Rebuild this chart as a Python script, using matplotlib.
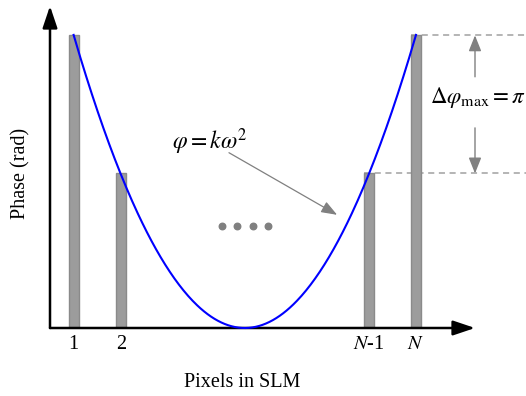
import numpy as np
import matplotlib.pyplot as plt

plt.rcParams['font.family'] = ['Liberation Serif', 'DejaVu Serif']
plt.rcParams['mathtext.fontset'] = 'stix'

# pixel positions along the SLM (arbitrary units) and phase in units of pi
pixel_pos = [0.5, 1.5, 6.75, 7.75]
pixel_labels = ['1', '2', '$N$-1', '$N$']
phase = [2.12, 1.12, 1.12, 2.12]
k = 0.1616
x0 = 4.125
dots_x = [3.65, 3.97, 4.29, 4.61]
dots_y = 0.74

grey = '#808080'

fig = plt.figure(figsize=(5.26, 3.96), dpi=100)
ax = fig.add_axes([50 / 526, 68 / 396, 425 / 526, 322 / 396])
ax.set_xlim(0, 9.0)
ax.set_ylim(0, 2.333)
for s in ax.spines.values():
    s.set_visible(False)
ax.set_yticks([])
ax.set_xticks(pixel_pos, pixel_labels, fontsize=14.5)
ax.tick_params(axis='x', length=0, pad=5)

# axes with arrows
arrow = dict(arrowstyle='-|>,head_length=0.95,head_width=0.32', color='k', lw=1.8,
             shrinkA=0, shrinkB=0, mutation_scale=14)
ax.annotate('', xy=(1, 0), xytext=(0, 0), xycoords='axes fraction', arrowprops=arrow)
ax.annotate('', xy=(0, 1), xytext=(0, 0), xycoords='axes fraction', arrowprops=arrow)

# dashed guide lines
for i in [2, 3]:
    ax.plot([pixel_pos[i] - 0.105, 10.2], [phase[i], phase[i]], ls=(0, (4, 3)),
            color='#a0a0a0', lw=1.1, clip_on=False, zorder=1)

# bars
ax.bar(pixel_pos, phase, width=0.21, color='#9c9c9c', edgecolor='#8a8a8a',
       lw=1, zorder=2)

# parabola
xs = np.linspace(pixel_pos[0], pixel_pos[-1], 300)
ax.plot(xs, k * (xs - x0) ** 2, color='#0000ff', lw=1.5, zorder=3, clip_on=False)

# dots
ax.scatter(dots_x, [dots_y] * len(dots_x), s=22, color=grey, zorder=3)

# annotation of phase profile
ax.text(3.38, 1.35, r'$\varphi = k\omega^2$', fontsize=17, ha='center', va='center')
ax.annotate('', xy=(6.08, 0.82), xytext=(3.79, 1.27),
            arrowprops=dict(arrowstyle='-|>,head_length=0.8,head_width=0.3',
                            color=grey, lw=0.9, shrinkA=0, shrinkB=0,
                            mutation_scale=12))

# delta phi arrows
darrow = dict(arrowstyle='-|>,head_length=0.8,head_width=0.32', color=grey,
              lw=1.0, shrinkA=0, shrinkB=0, mutation_scale=12)
ax.annotate('', xy=(9.0, phase[3]), xytext=(9.0, 1.82), arrowprops=darrow,
            annotation_clip=False)
ax.annotate('', xy=(9.0, phase[2]), xytext=(9.0, 1.45), arrowprops=darrow,
            annotation_clip=False)
ax.text(9.06, 1.67, r'$\Delta\varphi_{\rm max} = \pi$', fontsize=16.5,
        ha='center', va='center', clip_on=False)

ax.set_xlabel('Pixels in SLM', fontsize=14.5)
ax.xaxis.set_label_coords(0.452, -0.14)
ax.set_ylabel('Phase (rad)', fontsize=14.5)
ax.yaxis.set_label_coords(-0.045, 0.48)

fig.savefig('out.png', dpi=100)
